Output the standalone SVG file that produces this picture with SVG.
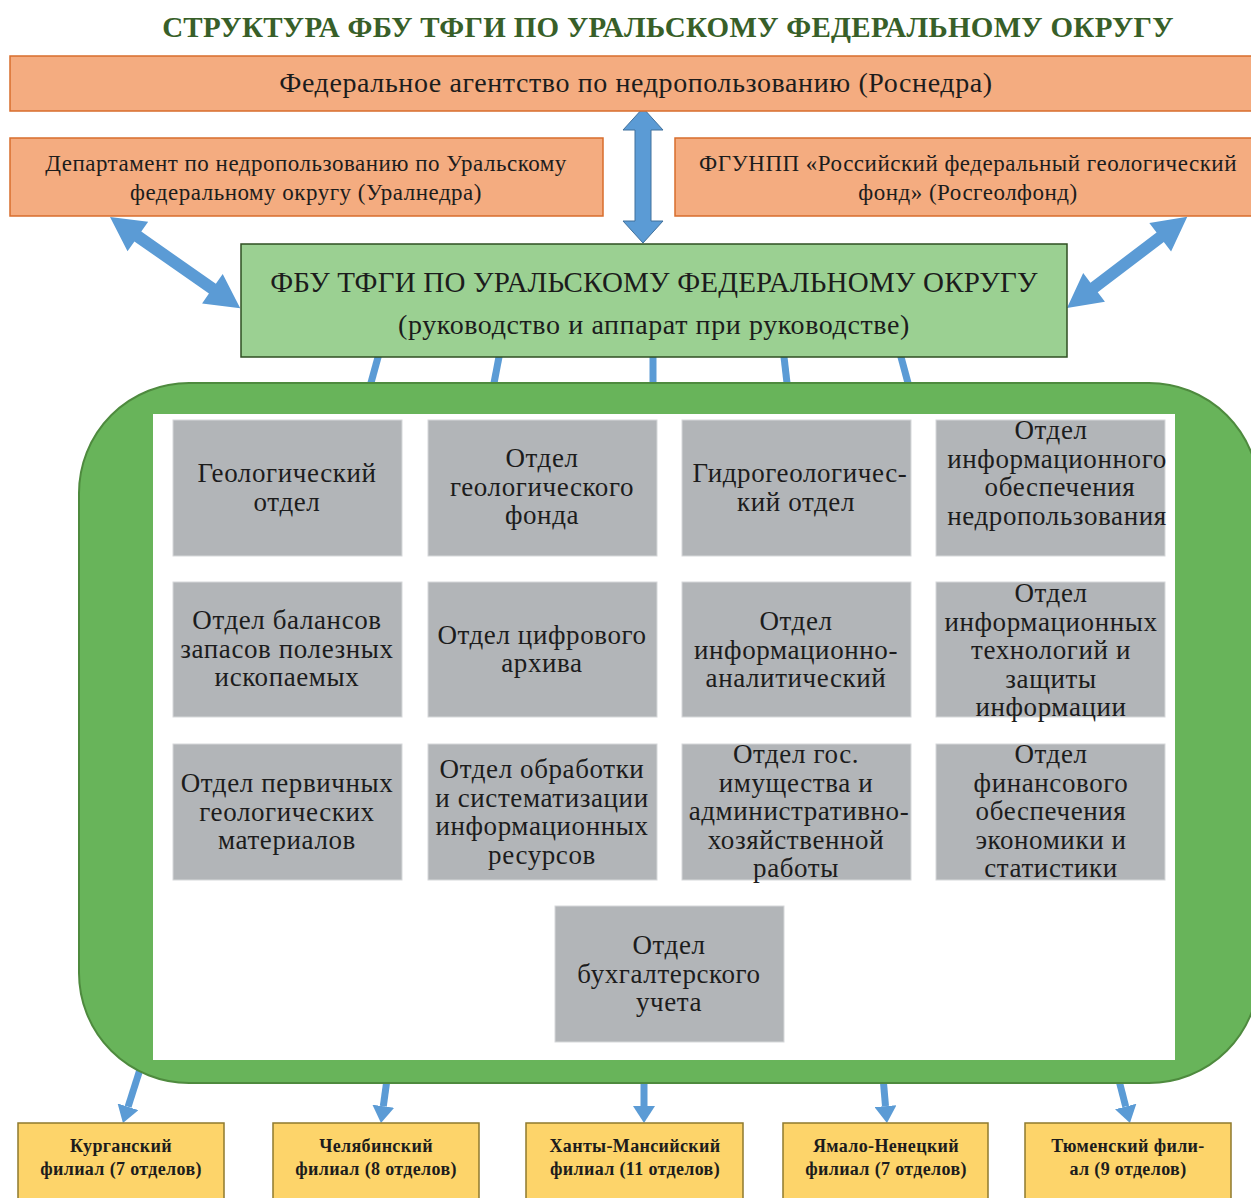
<svg xmlns="http://www.w3.org/2000/svg" width="1251" height="1198" viewBox="0 0 1251 1198">
  <style>
    text { font-family: "Liberation Serif", "Times New Roman", serif; fill: #1c1c1c; text-anchor: middle; }
    .title { font-size: 29px; font-weight: bold; fill: #385f29; letter-spacing: 0.3px; }
    .top { fill: #f4ac80; stroke: #d86d2c; stroke-width: 1.5; }
    .t26 { font-size: 28px; letter-spacing: 0.6px; }
    .t22 { font-size: 23px; letter-spacing: 0.5px; }
    .head { fill: #9bd092; stroke: #2f4f22; stroke-width: 1.5; }
    .t28 { font-size: 29px; letter-spacing: 0.2px; }
    .panel { fill: #68b45a; stroke: #4e8a3e; stroke-width: 2; }
    .dept { fill: #b2b5b8; stroke: #d6d8da; stroke-width: 1; }
    .dt { font-size: 27px; letter-spacing: 0.6px; }
    .branch { fill: #fdd46a; stroke: #8f7a2e; stroke-width: 1.5; }
    .bt { font-size: 18px; font-weight: bold; letter-spacing: 0.35px; }
    .link { stroke: #5b9bd5; stroke-width: 7; fill: none; }
    .arrow { stroke: #5b9bd5; stroke-width: 7; fill: none; marker-end: url(#tip); }
    .dbl { fill: #5b9bd5; }
  </style>
  <defs>
    <marker id="tip" markerUnits="userSpaceOnUse" markerWidth="17" markerHeight="22" viewBox="0 -11 17 22" refX="0" refY="0" orient="auto">
      <path d="M0,-11 L17,0 L0,11 z" fill="#5b9bd5"/>
    </marker>
  </defs>

  <rect width="1251" height="1198" fill="#ffffff"/>

  <text class="title" x="668" y="37">СТРУКТУРА ФБУ ТФГИ ПО УРАЛЬСКОМУ ФЕДЕРАЛЬНОМУ ОКРУГУ</text>

  <!-- connectors -->
  <g id="connectors">
    <polygon class="dbl" stroke="#41719c" stroke-width="1" points="643,108 663,130 651,130 651,221 663,221 643,243 623,221 635,221 635,130 623,130"/>
    <polygon class="dbl" transform="translate(110,217) rotate(35)" points="0,0 34,-18 34,-6 125,-6 125,-18 159,0 125,18 125,6 34,6 34,18"/>
    <polygon class="dbl" transform="translate(1067,308) rotate(-37.2)" points="0,0 34,-18 34,-6 117,-6 117,-18 151,0 117,18 117,6 34,6 34,18"/>
    <line class="link" x1="380" y1="350" x2="369" y2="390"/>
    <line class="link" x1="500.3" y1="350" x2="492.7" y2="390"/>
    <line class="link" x1="653" y1="350" x2="653" y2="390"/>
    <line class="link" x1="783.2" y1="350" x2="787.8" y2="390"/>
    <line class="link" x1="899.1" y1="350" x2="909.9" y2="390"/>
    <line class="arrow" x1="143" y1="1060" x2="128.1" y2="1106.8"/>
    <line class="arrow" x1="389" y1="1065" x2="383.3" y2="1106.2"/>
    <line class="arrow" x1="644" y1="1065" x2="644" y2="1106"/>
    <line class="arrow" x1="882" y1="1065" x2="885.5" y2="1106.1"/>
    <line class="arrow" x1="1115" y1="1065" x2="1125.7" y2="1106.5"/>
  </g>

  <g id="rosnedra">
    <rect class="top" x="10" y="56" width="1245" height="55"/>
    <text class="t26" x="636" y="92">Федеральное агентство по недропользованию (Роснедра)</text>
  </g>
  <g id="uralnedra">
    <rect class="top" x="10" y="138" width="593" height="78"/>
    <text class="t22" x="306" y="171">Департамент по недропользованию по Уральскому</text>
    <text class="t22" x="306" y="200">федеральному округу (Уралнедра)</text>
  </g>
  <g id="rosgeolfond">
    <rect class="top" x="675" y="138" width="580" height="78"/>
    <text class="t22" x="968" y="171">ФГУНПП «Российский федеральный геологический</text>
    <text class="t22" x="968" y="200">фонд» (Росгеолфонд)</text>
  </g>

  <g id="tfgi-head">
    <rect class="head" x="241" y="244" width="826" height="113"/>
    <text class="t28" x="654" y="292">ФБУ ТФГИ ПО УРАЛЬСКОМУ ФЕДЕРАЛЬНОМУ ОКРУГУ</text>
    <text class="t26" x="654" y="334">(руководство и аппарат при руководстве)</text>
  </g>

  <g id="departments-panel">
    <rect class="panel" x="79" y="383" width="1180" height="700" rx="110" ry="110"/>
    <rect x="153" y="414" width="1022" height="646" fill="#ffffff"/>
  </g>

  <g id="dept-geology">
    <rect class="dept" x="173" y="420" width="229" height="136"/>
    <text class="dt" x="287" y="482">Геологический</text>
    <text class="dt" x="287" y="511">отдел</text>
  </g>
  <g id="dept-geofund">
    <rect class="dept" x="428" y="420" width="229" height="136"/>
    <text class="dt" x="542" y="467">Отдел</text>
    <text class="dt" x="542" y="496">геологического</text>
    <text class="dt" x="542" y="524">фонда</text>
  </g>
  <g id="dept-hydro">
    <rect class="dept" x="682" y="420" width="229" height="136"/>
    <text class="dt" x="800" y="482">Гидрогеологичес-</text>
    <text class="dt" x="796" y="511">кий отдел</text>
  </g>
  <g id="dept-info-support">
    <rect class="dept" x="936" y="420" width="229" height="136"/>
    <text class="dt" x="1051" y="439">Отдел</text>
    <text class="dt" x="1057" y="468">информационного</text>
    <text class="dt" x="1060" y="496">обеспечения</text>
    <text class="dt" x="1057" y="525">недропользования</text>
  </g>

  <g id="dept-reserves">
    <rect class="dept" x="173" y="582" width="229" height="135"/>
    <text class="dt" x="287" y="629">Отдел балансов</text>
    <text class="dt" x="287" y="658">запасов полезных</text>
    <text class="dt" x="287" y="686">ископаемых</text>
  </g>
  <g id="dept-digital">
    <rect class="dept" x="428" y="582" width="229" height="135"/>
    <text class="dt" x="542" y="644">Отдел цифрового</text>
    <text class="dt" x="542" y="672">архива</text>
  </g>
  <g id="dept-analytics">
    <rect class="dept" x="682" y="582" width="229" height="135"/>
    <text class="dt" x="796" y="630">Отдел</text>
    <text class="dt" x="796" y="659">информационно-</text>
    <text class="dt" x="796" y="687">аналитический</text>
  </g>
  <g id="dept-it-security">
    <rect class="dept" x="936" y="582" width="229" height="135"/>
    <text class="dt" x="1051" y="602">Отдел</text>
    <text class="dt" x="1051" y="631">информационных</text>
    <text class="dt" x="1051" y="659">технологий и</text>
    <text class="dt" x="1051" y="688">защиты</text>
    <text class="dt" x="1051" y="716">информации</text>
  </g>

  <g id="dept-primary">
    <rect class="dept" x="173" y="744" width="229" height="136"/>
    <text class="dt" x="287" y="792">Отдел первичных</text>
    <text class="dt" x="287" y="821">геологических</text>
    <text class="dt" x="287" y="849">материалов</text>
  </g>
  <g id="dept-processing">
    <rect class="dept" x="428" y="744" width="229" height="136"/>
    <text class="dt" x="542" y="778">Отдел обработки</text>
    <text class="dt" x="542" y="807">и систематизации</text>
    <text class="dt" x="542" y="835">информационных</text>
    <text class="dt" x="542" y="864">ресурсов</text>
  </g>
  <g id="dept-property">
    <rect class="dept" x="682" y="744" width="229" height="136"/>
    <text class="dt" x="796" y="763">Отдел гос.</text>
    <text class="dt" x="796" y="792">имущества и</text>
    <text class="dt" x="799" y="820">административно-</text>
    <text class="dt" x="796" y="849">хозяйственной</text>
    <text class="dt" x="796" y="877">работы</text>
  </g>
  <g id="dept-finance">
    <rect class="dept" x="936" y="744" width="229" height="136"/>
    <text class="dt" x="1051" y="763">Отдел</text>
    <text class="dt" x="1051" y="792">финансового</text>
    <text class="dt" x="1051" y="820">обеспечения</text>
    <text class="dt" x="1051" y="849">экономики и</text>
    <text class="dt" x="1051" y="877">статистики</text>
  </g>

  <g id="dept-accounting">
    <rect class="dept" x="555" y="906" width="229" height="136"/>
    <text class="dt" x="669" y="954">Отдел</text>
    <text class="dt" x="669" y="983">бухгалтерского</text>
    <text class="dt" x="669" y="1011">учета</text>
  </g>

  <g id="branch-kurgan">
    <rect class="branch" x="18" y="1123" width="206" height="80"/>
    <text class="bt" x="121" y="1152">Курганский</text>
    <text class="bt" x="121" y="1175">филиал (7 отделов)</text>
  </g>
  <g id="branch-chelyabinsk">
    <rect class="branch" x="273" y="1123" width="206" height="80"/>
    <text class="bt" x="376" y="1152">Челябинский</text>
    <text class="bt" x="376" y="1175">филиал (8 отделов)</text>
  </g>
  <g id="branch-khmao">
    <rect class="branch" x="526" y="1123" width="217" height="80"/>
    <text class="bt" x="635" y="1152">Ханты-Мансийский</text>
    <text class="bt" x="635" y="1175">филиал (11 отделов)</text>
  </g>
  <g id="branch-yamal">
    <rect class="branch" x="783" y="1123" width="205" height="80"/>
    <text class="bt" x="886" y="1152">Ямало-Ненецкий</text>
    <text class="bt" x="886" y="1175">филиал (7 отделов)</text>
  </g>
  <g id="branch-tyumen">
    <rect class="branch" x="1025" y="1123" width="206" height="80"/>
    <text class="bt" x="1128" y="1152">Тюменский фили-</text>
    <text class="bt" x="1128" y="1175">ал (9 отделов)</text>
  </g>
</svg>
